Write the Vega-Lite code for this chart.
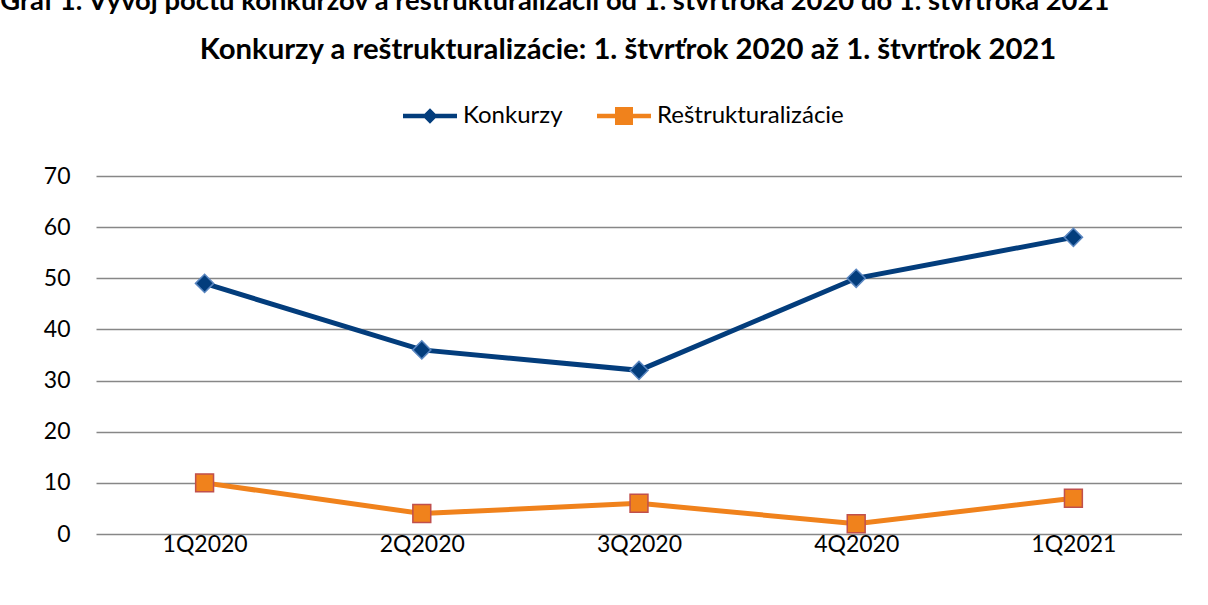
{
  "$schema": "https://vega.github.io/schema/vega-lite/v6.json",
  "padding": {"left": 0, "top": -12, "right": 0, "bottom": 0},
  "background": "white",
  "title": {
    "text": "Graf 1: Vývoj počtu konkurzov a reštrukturalizácií od 1. štvrťroka 2020 do 1. štvrťroka 2021",
    "anchor": "start",
    "frame": "bounds",
    "dx": -43,
    "fontSize": 27.4,
    "font": "Lato",
    "fontWeight": "bold",
    "color": "black",
    "offset": 20
  },
  "vconcat": [
    {
      "width": 1086,
      "height": 358,
      "title": {
        "text": "Konkurzy a reštrukturalizácie: 1. štvrťrok 2020 až 1. štvrťrok 2021",
        "fontSize": 29.3,
        "font": "Lato",
        "fontWeight": "bold",
        "color": "black",
        "anchor": "middle",
        "dx": -11,
        "offset": 100
      },
      "data": {
        "values": [
          {"kvartal": "1Q2020", "rad": "Konkurzy", "pocet": 49},
          {"kvartal": "2Q2020", "rad": "Konkurzy", "pocet": 36},
          {"kvartal": "3Q2020", "rad": "Konkurzy", "pocet": 32},
          {"kvartal": "4Q2020", "rad": "Konkurzy", "pocet": 50},
          {"kvartal": "1Q2021", "rad": "Konkurzy", "pocet": 58},
          {"kvartal": "1Q2020", "rad": "Reštrukturalizácie", "pocet": 10},
          {"kvartal": "2Q2020", "rad": "Reštrukturalizácie", "pocet": 4},
          {"kvartal": "3Q2020", "rad": "Reštrukturalizácie", "pocet": 6},
          {"kvartal": "4Q2020", "rad": "Reštrukturalizácie", "pocet": 2},
          {"kvartal": "1Q2021", "rad": "Reštrukturalizácie", "pocet": 7}
        ]
      },
      "encoding": {
        "x": {
          "field": "kvartal",
          "type": "ordinal",
          "sort": null,
          "scale": {"type": "point", "padding": 0.5},
          "axis": {
            "title": null,
            "labelAngle": 0,
            "labelFont": "Lato",
            "labelFontSize": 23,
            "labelColor": "black",
            "ticks": false,
            "domain": false,
            "grid": false,
            "labelPadding": -1
          }
        },
        "y": {
          "field": "pocet",
          "type": "quantitative",
          "scale": {"domain": [0, 70], "nice": false},
          "axis": {
            "title": null,
            "values": [0, 10, 20, 30, 40, 50, 60, 70],
            "labelFont": "Lato",
            "labelFontSize": 23,
            "labelColor": "black",
            "ticks": false,
            "domain": false,
            "grid": true,
            "gridColor": "#878787",
            "gridWidth": 1.6,
            "labelPadding": 26
          }
        }
      },
      "layer": [
        {
          "mark": {"type": "line", "strokeWidth": 5},
          "encoding": {
            "color": {
              "field": "rad",
              "type": "nominal",
              "sort": null,
              "scale": {"domain": ["Konkurzy", "Reštrukturalizácie"], "range": ["#033D7C", "#F0821C"]},
              "legend": {
                "title": null,
                "orient": "none",
                "legendX": 322,
                "legendY": -72,
                "direction": "horizontal",
                "labelFont": "Lato",
                "labelFontSize": 24,
                "labelColor": "black",
                "labelLimit": 400,
                "symbolSize": 324,
                "labelOffset": 21,
                "columnPadding": 34,
                "padding": 0,
                "encoding": {
                  "symbols": {
                    "shape": {
                      "condition": {"test": "datum.value === 'Konkurzy'", "value": "M-3,-0.24H-0.5V0.24H-3ZM0.5,-0.24H3V0.24H0.5ZM0,-0.85L0.85,0L0,0.85L-0.85,0Z"},
                      "value": "M-3,-0.24H-0.9V0.24H-3ZM0.9,-0.24H3V0.24H0.9ZM-1,-1H1V1H-1Z"
                    },
                    "fill": {
                      "condition": {"test": "datum.value === 'Konkurzy'", "value": "#033D7C"},
                      "value": "#F0821C"
                    },
                    "stroke": {"value": "transparent"},
                    "strokeWidth": {"value": 0},
                    "opacity": {"value": 1}
                  }
                }
              }
            }
          }
        },
        {
          "transform": [{"filter": "datum.rad === 'Konkurzy'"}],
          "mark": {"type": "point", "shape": "diamond", "filled": true, "size": 330, "strokeWidth": 1.5, "opacity": 1, "fill": "#033D7C", "stroke": "#5A86C0"},
          "encoding": {}
        },
        {
          "transform": [{"filter": "datum.rad === 'Reštrukturalizácie'"}],
          "mark": {"type": "point", "shape": "square", "filled": true, "size": 320, "strokeWidth": 1.5, "opacity": 1, "fill": "#F0821C", "stroke": "#C0504D"},
          "encoding": {}
        }
      ]
    }
  ],
  "config": {
    "view": {"stroke": null},
    "font": "Lato"
  }
}
